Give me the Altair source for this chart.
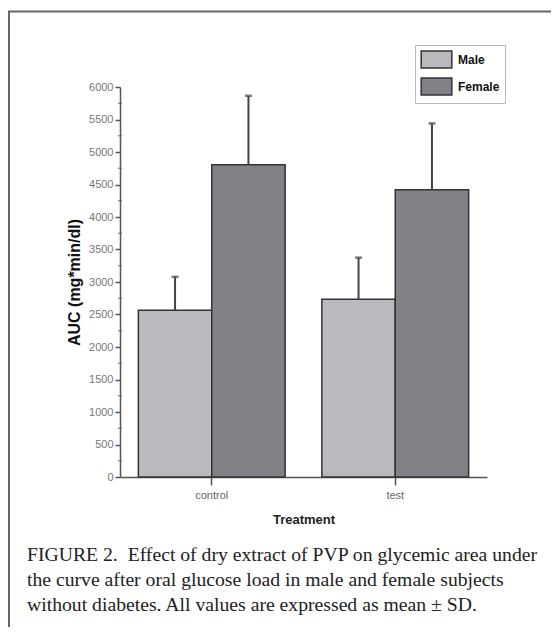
import altair as alt
import pandas as pd

treatment = ["control", "control", "test", "test"]
sex = ["Male", "Female", "Male", "Female"]
auc_mean = [2565, 4805, 2735, 4420]
auc_sd = [515, 1060, 640, 1020]
y_ticks = [0, 500, 1000, 1500, 2000, 2500, 3000, 3500, 4000, 4500, 5000, 5500, 6000]
y_minor = [250, 750, 1250, 1750, 2250, 2750, 3250, 3750, 4250, 4750, 5250, 5750]
sex_order = ["Male", "Female"]
sex_colors = ["#b9babd", "#818287"]
caption = [
    "FIGURE 2.\u00a0 Effect of dry extract of PVP on glycemic area under",
    "the curve after oral glucose load in male and female subjects",
    "without diabetes. All values are expressed as mean \u00b1 SD.",
]

df = pd.DataFrame({"treatment": treatment, "sex": sex, "mean": auc_mean, "sd": auc_sd})
df["top"] = df["mean"] + df["sd"]
minor_df = pd.DataFrame({"v": y_minor})
one = pd.DataFrame({"a": [0]})
cap_df = pd.DataFrame({"t": ["\n".join(caption)]})

W, H = 367, 390
PAD = {"left": 112, "top": 79, "right": 64, "bottom": 150}

x_axis = alt.Axis(title="Treatment", labelAngle=0, labelFont="Liberation Sans",
                  labelFontSize=11, labelColor="#666", labelPadding=4,
                  tickSize=8, tickColor="#555", domainColor="#555",
                  domainWidth=1.5, tickWidth=1.5,
                  titleFont="Liberation Sans", titleFontSize=13,
                  titleFontWeight="bold", titleColor="#222", titlePadding=13)
y_axis = alt.Axis(values=y_ticks, format="d", title="AUC (mg*min/dl)", grid=False,
                  labelOverlap=False, labelFlush=False,
                  labelFont="Liberation Sans", labelFontSize=11, labelColor="#777",
                  labelPadding=2, tickSize=5, tickColor="#555", tickWidth=1.5,
                  domainColor="#555", domainWidth=1.5,
                  titleFont="Liberation Sans", titleFontSize=16,
                  titleFontWeight="bold", titleColor="#111", titlePadding=6)
x_scale = alt.Scale(paddingInner=0.2, paddingOuter=0.1)
y_scale = alt.Scale(domain=[0, 6000], nice=False)

x_enc = alt.X("treatment:N", sort=["control", "test"], scale=x_scale, axis=x_axis)
xo_enc = alt.XOffset("sex:N", sort=sex_order, scale=alt.Scale(paddingInner=0, paddingOuter=0))

bars = alt.Chart(df).mark_bar(stroke="#333", strokeWidth=1.5).encode(
    x=x_enc,
    xOffset=xo_enc,
    y=alt.Y("mean:Q", scale=y_scale, axis=y_axis),
    color=alt.Color("sex:N", sort=sex_order,
                    scale=alt.Scale(domain=sex_order, range=sex_colors),
                    title=None,
                    legend=alt.Legend(orient="none", legendX=295, legendY=-42,
                                      symbolType="M-1.8,-1H1.8V1H-1.8Z", symbolSize=289,
                                      symbolOffset=7,
                                      symbolStrokeColor="#333", symbolStrokeWidth=1.5,
                                      symbolOpacity=1,
                                      labelFont="Liberation Sans", labelFontSize=12,
                                      labelFontWeight="bold", labelColor="#111",
                                      rowPadding=4, padding=5, strokeColor="#bbb",
                                      fillColor="white", labelOffset=12)),
)

err = alt.Chart(df).mark_rule(color="#444", strokeWidth=2).encode(
    x=x_enc,
    xOffset=xo_enc,
    y=alt.Y("mean:Q", scale=y_scale, axis=y_axis),
    y2="top:Q",
)
caps = alt.Chart(df).mark_tick(color="#444", thickness=2.5, size=7, orient="horizontal").encode(
    x=x_enc,
    xOffset=xo_enc,
    y=alt.Y("top:Q", scale=y_scale, axis=y_axis),
)
minor = alt.Chart(minor_df).mark_tick(color="#555", thickness=1.2, size=4, orient="horizontal").encode(
    x=alt.value(0),
    y=alt.Y("v:Q", scale=y_scale, axis=y_axis),
)
frame_top = alt.Chart(one).mark_rule(color="#666", strokeWidth=2).encode(
    x=alt.value(-112), x2=alt.value(W + PAD["right"]), y=alt.value(-75.5))
frame_left = alt.Chart(one).mark_rule(color="#666", strokeWidth=2).encode(
    x=alt.value(-111), y=alt.value(-76), y2=alt.value(H + PAD["bottom"]))
cap_text = alt.Chart(cap_df).mark_text(
    font="Liberation Serif", fontSize=19.7, color="#222", align="left",
    baseline="alphabetic", lineBreak="\n", lineHeight=25,
).encode(text="t:N", x=alt.value(-93), y=alt.value(474))

chart = alt.layer(bars, err, caps, minor, frame_top, frame_left, cap_text).properties(
    width=W, height=H,
    autosize=alt.AutoSizeParams(type="none"),
    padding=PAD,
).configure(background="white").configure_view(strokeWidth=0, stroke="transparent")

chart.save("out.html", embed_options={"renderer": "svg", "actions": False})
